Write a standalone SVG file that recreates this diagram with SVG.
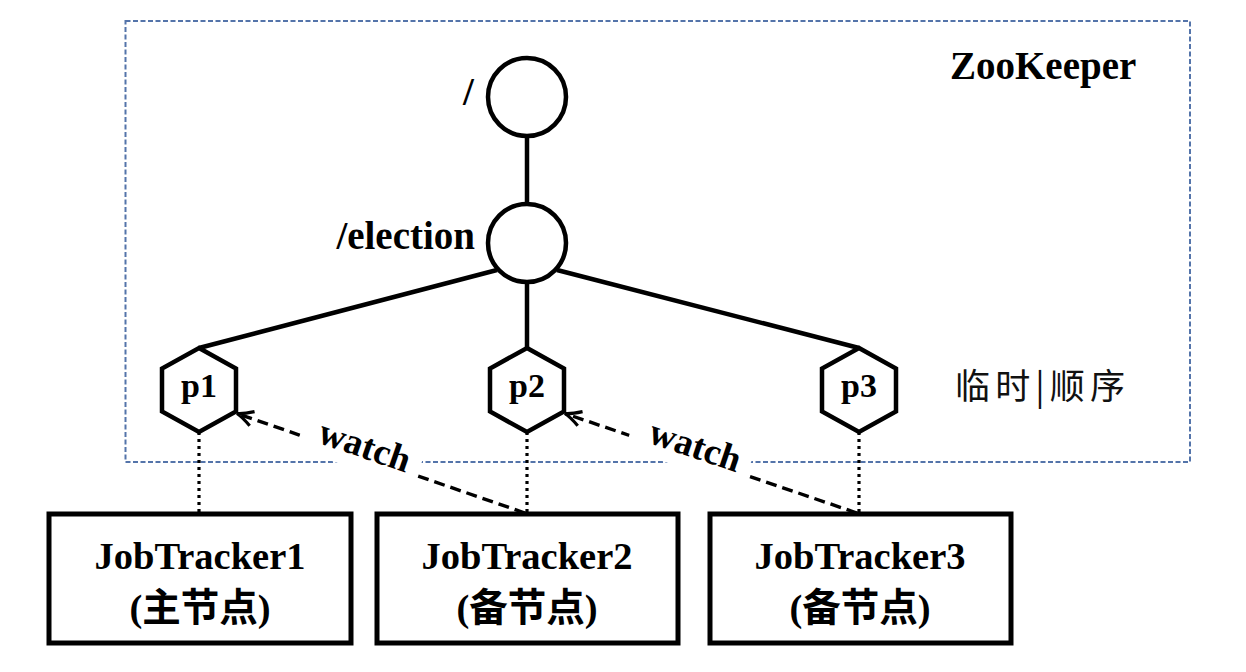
<svg xmlns="http://www.w3.org/2000/svg" width="1246" height="672" viewBox="0 0 1246 672">
<style>
.bg{fill:#ffffff}
.zk{fill:none;stroke:#5474aa;stroke-width:2;stroke-dasharray:5,2.5}
.tree{stroke:#000;stroke-width:4.5;fill:none}
.dot{stroke:#000;stroke-width:3.2;stroke-dasharray:3,4;fill:none}
.watch{stroke:#000;stroke-width:3.4;stroke-dasharray:11,6;fill:none}
.node{fill:#fff;stroke:#000;stroke-width:4.5}
.box{fill:#fff;stroke:#000;stroke-width:5}
.lbl{font-family:"Liberation Serif","Noto Sans CJK SC",serif;font-weight:bold;fill:#000}
.big{font-size:39px}
.bx{font-size:38.5px;text-anchor:middle}
.hx{font-size:34px;text-anchor:middle}
.wt{font-size:37px;text-anchor:middle}
.cjk{font-family:"Noto Sans CJK SC",sans-serif;font-size:35px;fill:#111}
</style>
<defs>
<marker id="barb" markerUnits="userSpaceOnUse" markerWidth="24" markerHeight="20" viewBox="-20 -10 24 20" refX="0" refY="0" orient="auto">
<path d="M-16,-7.5 Q-6,-1.5 0,0 Q-6,1.5 -16,7.5" fill="none" stroke="#000" stroke-width="3.2"/>
</marker>
</defs>
<rect class="bg" x="0" y="0" width="1246" height="672"/>
<g id="zookeeper">
<rect class="zk" x="125.5" y="21" width="1064.5" height="441"/>
<text class="lbl big" x="950" y="79">ZooKeeper</text>
<text class="cjk" x="955" y="399" textLength="170" lengthAdjust="spacing">临时|顺序</text>
</g>
<g id="connectors">
<line class="tree" x1="527" y1="136" x2="527" y2="204"/>
<line class="tree" x1="497" y1="270" x2="199" y2="348"/>
<line class="tree" x1="527" y1="282" x2="527" y2="348"/>
<line class="tree" x1="557" y1="270" x2="859" y2="348"/>
<line class="dot" x1="199" y1="432" x2="199" y2="513"/>
<line class="dot" x1="527" y1="432" x2="527" y2="513"/>
<line class="dot" x1="859" y1="432" x2="859" y2="513"/>
<line class="watch" x1="525" y1="513" x2="237" y2="413.5" marker-end="url(#barb)"/>
<line class="watch" x1="857" y1="513" x2="565" y2="413.5" marker-end="url(#barb)"/>
</g>
<g id="root">
<circle class="node" cx="527" cy="97" r="39"/>
<text class="lbl big" x="463" y="105">/</text>
</g>
<g id="election">
<circle class="node" cx="527" cy="243" r="39"/>
<text class="lbl big" x="475" y="249" text-anchor="end">/election</text>
</g>
<g id="p1">
<polygon class="node" points="199,348 236,368.5 236,411.5 199,432 162,411.5 162,368.5"/>
<text class="lbl hx" x="199" y="397">p1</text>
</g>
<g id="p2">
<polygon class="node" points="527,348 564,368.5 564,411.5 527,432 490,411.5 490,368.5"/>
<text class="lbl hx" x="527" y="397">p2</text>
</g>
<g id="p3">
<polygon class="node" points="859,348 896,368.5 896,411.5 859,432 822,411.5 822,368.5"/>
<text class="lbl hx" x="859" y="397">p3</text>
</g>
<g id="jt1">
<rect class="box" x="49" y="514" width="302" height="129"/>
<text class="lbl bx" x="200" y="569">JobTracker1</text>
<text class="lbl bx" x="200" y="621">(主节点)</text>
</g>
<g id="jt2">
<rect class="box" x="377" y="514" width="301" height="129"/>
<text class="lbl bx" x="527" y="569">JobTracker2</text>
<text class="lbl bx" x="527" y="621">(备节点)</text>
</g>
<g id="jt3">
<rect class="box" x="710" y="514" width="301" height="129"/>
<text class="lbl bx" x="860" y="569">JobTracker3</text>
<text class="lbl bx" x="860" y="621">(备节点)</text>
</g>
<g id="watch1" transform="translate(358.5,455.4) rotate(19.08)">
<rect class="bg" x="-62" y="-31" width="124" height="45"/>
<text class="lbl wt" x="3" y="1">watch</text>
</g>
<g id="watch2" transform="translate(688,455) rotate(18.73)">
<rect class="bg" x="-62" y="-31" width="124" height="45"/>
<text class="lbl wt" x="4" y="1">watch</text>
</g>
</svg>
